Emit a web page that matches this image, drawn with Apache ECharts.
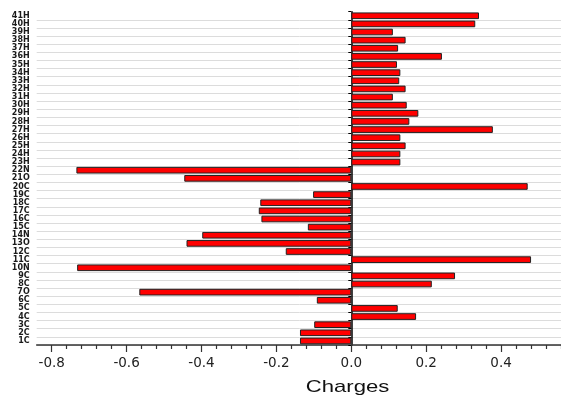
<!DOCTYPE html>
<html>
<head>
<meta charset="utf-8">
<script src="https://cdn.jsdelivr.net/npm/echarts@6/dist/echarts.min.js"></script>
<style>html,body{margin:0;padding:0;background:#fff;}#c{width:561px;height:396px;}</style>
</head>
<body>
<div id="c"></div>
<script>
var atoms = ['1C','2C','3C','4C','5C','6C','7O','8C','9C','10N','11C','12C','13O','14N','15C','16C','17C','18C','19C','20C','21O','22N','23H','24H','25H','26H','27H','28H','29H','30H','31H','32H','33H','34H','35H','36H','37H','38H','39H','40H','41H'];
var charges = [-0.137,-0.137,-0.099,0.173,0.124,-0.092,-0.566,0.215,0.277,-0.732,0.480,-0.175,-0.440,-0.398,-0.116,-0.240,-0.247,-0.243,-0.102,0.471,-0.446,-0.734,0.131,0.131,0.145,0.131,0.378,0.155,0.179,0.148,0.111,0.145,0.128,0.131,0.122,0.242,0.125,0.145,0.111,0.331,0.341];
var xTitle = 'Charges';

var chart = echarts.init(document.getElementById('c'), null, {renderer:'canvas'});
var L1 = 36.7, TOP = 11.7, BOTTOM = 51, RIGHT = -15;
var pxPerUnit = (561 - RIGHT - L1) / 1.44;
var L2 = L1 + 0.04 * pxPerUnit;
chart.setOption({
  animation: false,
  grid: [
    {left: L1, right: RIGHT, top: TOP, bottom: BOTTOM, containLabel: false, outerBoundsMode: 'none'},
    {left: L2, right: RIGHT, top: TOP, bottom: BOTTOM, containLabel: false, outerBoundsMode: 'none'}
  ],
  xAxis: [
    {gridIndex: 0, type: 'value', min: -0.84, max: 0.6,
     axisLine: {show: true, onZero: false, lineStyle: {color: '#333', width: 1.5}},
     axisTick: {show: false}, axisLabel: {show: false}, splitLine: {show: false}},
    {gridIndex: 1, type: 'value', min: -0.8, max: 0.6, interval: 0.2,
     axisLine: {show: false, onZero: false},
     axisTick: {show: true, length: 7, lineStyle: {color: '#333', width: 1.2}},
     minorTick: {show: true, splitNumber: 5, length: 4, lineStyle: {color: '#333', width: 1.2}},
     axisLabel: {show: true, margin: 11, fontSize: 13.5, color: '#222', fontFamily: 'DejaVu Sans',
       formatter: function (v) { return v.toFixed(1); }},
     splitLine: {show: false}}
  ],
  yAxis: [
    {gridIndex: 0, type: 'category', data: atoms,
     axisLine: {show: true, onZero: true, lineStyle: {color: '#000', width: 1.5}},
     axisTick: {show: true, length: 3, lineStyle: {color: '#000'}},
     axisLabel: {show: true, interval: 0, margin: 7, fontSize: 8, fontWeight: 'bold',
       fontFamily: 'DejaVu Sans', color: '#1a1a1a'},
     splitLine: {show: true, showMaxLine: false, lineStyle: {color: '#dcdcdc', width: 1}}},
    {gridIndex: 1, type: 'value', show: false}
  ],
  graphic: [
    {type: 'text', x: 347.5, y: 387, scaleX: 1.3,
     style: {text: xTitle, font: '17px "Liberation Sans", Arial, sans-serif', fill: '#111',
       textAlign: 'center', textVerticalAlign: 'middle'}}
  ],
  series: [
    {type: 'bar', xAxisIndex: 0, yAxisIndex: 0, data: charges, barCategoryGap: '18%',
     itemStyle: {color: '#ff0000', borderColor: '#222', borderWidth: 1}}
  ]
});
</script>
</body>
</html>
